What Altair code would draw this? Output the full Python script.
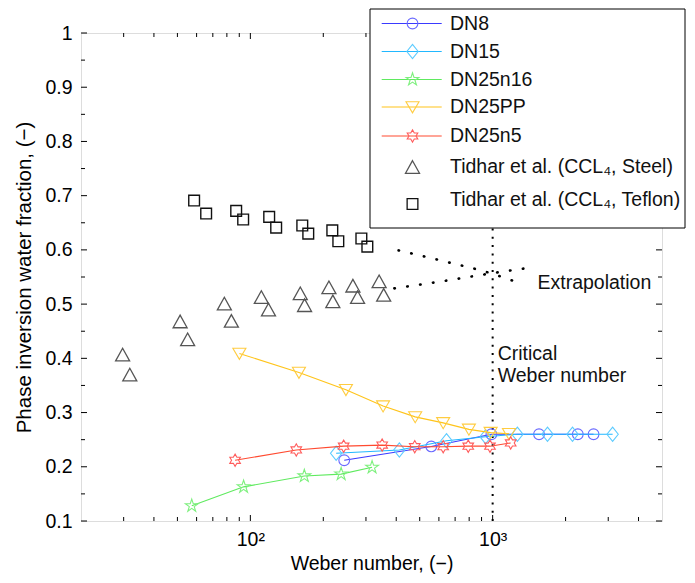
import altair as alt
import pandas as pd

# ---------------- data ----------------
dn8_we = [244, 558, 988, 1554, 2246, 2609]
dn8_phi = [0.212, 0.2375, 0.260, 0.260, 0.260, 0.260]

dn15_we = [226, 412, 645, 935, 1265, 1684, 2136, 3127]
dn15_phi = [0.225, 0.231, 0.248, 0.2555, 0.260, 0.260, 0.260, 0.260]

dn25n16_we = [57.3, 93.8, 167, 237, 318]
dn25n16_phi = [0.128, 0.163, 0.183, 0.1865, 0.199]

dn25pp_we = [90.1, 158.7, 248, 353, 479, 625, 798, 981, 1168]
dn25pp_phi = [0.409, 0.374, 0.342, 0.312, 0.292, 0.281, 0.269, 0.263, 0.261]

dn25n5_we = [86.5, 154.7, 242.7, 350, 477, 625, 793, 975, 1187]
dn25n5_phi = [0.212, 0.231, 0.238, 0.240, 0.237, 0.237, 0.238, 0.238, 0.244]

steel_we = [29.7, 31.8, 51.3, 55.1, 78.1, 83.5, 111, 118.8, 160.7, 167.4, 211, 219, 265, 277, 340, 355]
steel_phi = [0.407, 0.370, 0.468, 0.435, 0.501, 0.469, 0.513, 0.490, 0.520, 0.498, 0.531, 0.505, 0.534, 0.513, 0.542, 0.517]

teflon_we = [58.6, 65.7, 87.4, 93.4, 119.6, 127.8, 163.8, 173.4, 217.9, 230.7, 287.2, 304]
teflon_phi = [0.691, 0.667, 0.672, 0.656, 0.661, 0.641, 0.645, 0.630, 0.636, 0.616, 0.621, 0.606]

teflon_ext_we = [409, 658, 963, 1269]
teflon_ext_phi = [0.599, 0.577, 0.558, 0.540]
steel_ext_we = [393, 658, 963, 1369]
steel_ext_phi = [0.529, 0.544, 0.556, 0.566]

critical_we = [1000]

x_major = [100, 1000]
x_minor = [30, 40, 50, 60, 70, 80, 90, 200, 300, 400, 500, 600, 700, 800, 900, 2000, 3000, 4000]
y_major = [0.1, 0.2, 0.3, 0.4, 0.5, 0.6, 0.7, 0.8, 0.9, 1.0]
y_minor = [0.15, 0.25, 0.35, 0.45, 0.55, 0.65, 0.75, 0.85, 0.95]

legend_labels = ["DN8", "DN15", "DN25n16", "DN25PP", "DN25n5",
                 "Tidhar et al. (CCL\u2084, Steel)", "Tidhar et al. (CCL\u2084, Teflon)"]

# ---------------- styling ----------------
W, H = 581, 488
FONT = "Liberation Sans"
FS = 19.5

HEXAGRAM = "M0,-1L0.289,-0.5L0.866,-0.5L0.577,0L0.866,0.5L0.289,0.5L0,1L-0.289,0.5L-0.866,0.5L-0.577,0L-0.866,-0.5L-0.289,-0.5Z"
STAR5 = "M0,-1L0.2245,-0.309L0.951,-0.309L0.3633,0.118L0.5878,0.809L0,0.382L-0.5878,0.809L-0.3633,0.118L-0.951,-0.309L-0.2245,-0.309Z"
DIAMOND = "M0,-1L0.8,0L0,1L-0.8,0Z"
TRI_DOWN = "M-1,-0.8L1,-0.8L0,0.9Z"
TRI_UP = "M0,-0.9L1,0.9L-1,0.9Z"

series = [
    # label, we, phi, line color, marker color, shape, size
    ("DN8", dn8_we, dn8_phi, "#3a3aff", "#6a6aff", "circle", 115),
    ("DN15", dn15_we, dn15_phi, "#22b8ff", "#5ccbff", DIAMOND, 200),
    ("DN25n16", dn25n16_we, dn25n16_phi, "#5fea5f", "#7ef07e", STAR5, 180),
    ("DN25PP", dn25pp_we, dn25pp_phi, "#ffc41a", "#ffcc40", TRI_DOWN, 170),
    ("DN25n5", dn25n5_we, dn25n5_phi, "#ff4a30", "#ff5c5c", HEXAGRAM, 150),
]

xscale = alt.Scale(type="log", domain=[20, 5000], nice=False)
yscale = alt.Scale(domain=[0.1, 1.0], nice=False, zero=False)

xaxis = alt.Axis(values=x_major, labelExpr="datum.value == 100 ? '10\u00b2' : '10\u00b3'",
                 ticks=False, domain=False, grid=False, labelFont=FONT, labelFontSize=FS,
                 labelColor="#000", labelPadding=9, title="Weber number, (\u2212)",
                 titleFont=FONT, titleFontSize=FS, titleFontWeight="normal", titleColor="#000",
                 titlePadding=6, labelFlush=False)
yaxis = alt.Axis(values=y_major, format=".1~f", ticks=False, domain=False, grid=False,
                 labelFont=FONT, labelFontSize=FS, labelColor="#000", labelPadding=9,
                 title="Phase inversion water fraction, (\u2212)", titleFont=FONT,
                 titleFontSize=20.5, titleFontWeight="normal", titleColor="#000", titlePadding=10)


def X(field):
    return alt.X(field, type="quantitative", scale=xscale, axis=xaxis)


def Y(field):
    return alt.Y(field, type="quantitative", scale=yscale, axis=yaxis)


layers = []

# critical Weber number line
crit_df = pd.DataFrame({"we": critical_we, "y0": [0.1], "y1": [1.0]})
layers.append(alt.Chart(crit_df).mark_rule(color="black", strokeWidth=2, strokeDash=[2, 6.3]).encode(
    x=X("we"), y=Y("y0"), y2="y1"))

# extrapolation dotted curves
for we, phi in [(teflon_ext_we, teflon_ext_phi), (steel_ext_we, steel_ext_phi)]:
    df = pd.DataFrame({"we": we, "phi": phi})
    layers.append(alt.Chart(df).mark_line(color="black", strokeWidth=2.6, strokeDash=[0.5, 12.5],
                                          strokeCap="round", interpolate="monotone").encode(
        x=X("we"), y=Y("phi")))

# Tidhar data
steel_df = pd.DataFrame({"we": steel_we, "phi": steel_phi})
layers.append(alt.Chart(steel_df).mark_point(shape=TRI_UP, size=196, filled=False, color="#555555",
                                             strokeWidth=1.3, opacity=1).encode(x=X("we"), y=Y("phi")))
teflon_df = pd.DataFrame({"we": teflon_we, "phi": teflon_phi})
layers.append(alt.Chart(teflon_df).mark_point(shape="square", size=115, filled=False, color="#111111",
                                              strokeWidth=1.4, opacity=1).encode(x=X("we"), y=Y("phi")))

# experimental series
for label, we, phi, lc, mc, shape, size in series:
    df = pd.DataFrame({"we": we, "phi": phi})
    base = alt.Chart(df).encode(x=X("we"), y=Y("phi"))
    layers.append(base.mark_line(color=lc, strokeWidth=1.1))
    layers.append(base.mark_point(shape=shape, size=size, filled=False, color=mc, strokeWidth=1.1, opacity=1))

# annotations
ann_df = pd.DataFrame({"we": [1531, 1049, 1049], "phi": [0.5394, 0.4087, 0.3674],
                       "txt": ["Extrapolation", "Critical", "Weber number"]})
layers.append(alt.Chart(ann_df).mark_text(align="left", baseline="middle", font=FONT, fontSize=FS,
                                          color="#111").encode(x=X("we"), y=Y("phi"), text="txt:N"))

# inward ticks on all four sides
xmaj = pd.DataFrame({"we": x_major})
xmin = pd.DataFrame({"we": x_minor})
ymaj = pd.DataFrame({"phi": y_major})
ymin = pd.DataFrame({"phi": y_minor})
for df, L in [(xmaj, 6), (xmin, 4)]:
    layers.append(alt.Chart(df).mark_rule(color="black", strokeWidth=1).encode(
        x=X("we"), y=alt.value(H), y2=alt.value(H - L)))
    layers.append(alt.Chart(df).mark_rule(color="black", strokeWidth=1).encode(
        x=X("we"), y=alt.value(0), y2=alt.value(L)))
for df, L in [(ymaj, 6), (ymin, 4)]:
    layers.append(alt.Chart(df).mark_rule(color="black", strokeWidth=1).encode(
        y=Y("phi"), x=alt.value(0), x2=alt.value(L)))
    layers.append(alt.Chart(df).mark_rule(color="black", strokeWidth=1).encode(
        y=Y("phi"), x=alt.value(W - L), x2=alt.value(W)))

# legend box (drawn manually, on top)
one = alt.Data(values=[{"k": 1}])
LX0, LX1, LY0, LY1 = 289, 604, -24, 195
layers.append(alt.Chart(one).mark_rect(fill="white", stroke="black", strokeWidth=1).encode(
    x=alt.value(LX0), x2=alt.value(LX1), y=alt.value(LY0), y2=alt.value(LY1)))

row_y = [-9.5, 18.5, 46.5, 74, 103, 133.5, 167]
marker_y = [-9.5, 18.5, 46.5, 74, 103, 134, 171]
legend_style = [(s[3], s[4], s[5], s[6]) for s in series] + [
    (None, "#555555", TRI_UP, 196), (None, "#111111", "square", 115)]
for i, label in enumerate(legend_labels):
    lc, mc, shape, size = legend_style[i]
    if lc is not None:
        layers.append(alt.Chart(one).mark_rule(color=lc, strokeWidth=1.1).encode(
            x=alt.value(300.7), x2=alt.value(360.7), y=alt.value(row_y[i])))
    sw = 1.3 if lc is None else 1.1
    layers.append(alt.Chart(one).mark_point(shape=shape, size=size, filled=False, color=mc,
                                            strokeWidth=sw, opacity=1).encode(
        x=alt.value(331.5), y=alt.value(marker_y[i])))
    layers.append(alt.Chart(one).mark_text(align="left", baseline="middle", font=FONT, fontSize=FS,
                                           color="#111").encode(
        x=alt.value(369), y=alt.value(row_y[i]), text=alt.value(label)))

chart = alt.layer(*layers).properties(
    width=W, height=H,
    autosize=alt.AutoSizeParams(type="none"),
    padding={"left": 73, "top": 25, "right": 25, "bottom": 54},
).configure_view(stroke="black", strokeWidth=1).configure(background="white")

chart.save("out.html", embed_options={"renderer": "svg", "actions": False})
